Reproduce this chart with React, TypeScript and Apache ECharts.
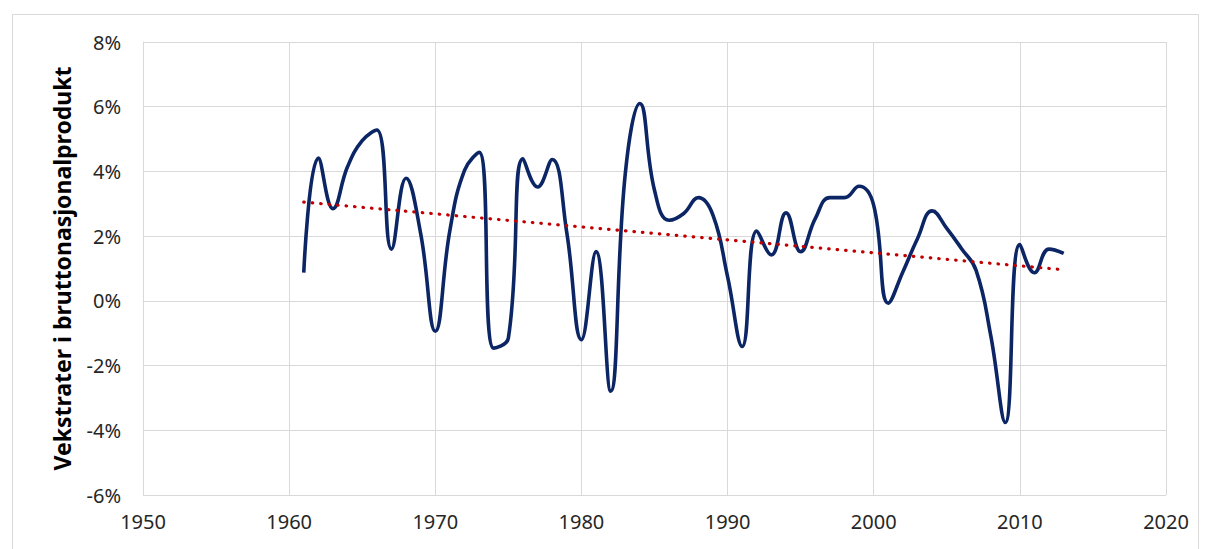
import React, { useEffect, useRef } from "react";
import * as echarts from "echarts";

const years: number[] = [
  1961, 1962, 1963, 1964, 1965, 1966, 1967, 1968, 1969, 1970,
  1971, 1972, 1973, 1974, 1975, 1976, 1977, 1978, 1979, 1980,
  1981, 1982, 1983, 1984, 1985, 1986, 1987, 1988, 1989, 1990,
  1991, 1992, 1993, 1994, 1995, 1996, 1997, 1998, 1999, 2000,
  2001, 2002, 2003, 2004, 2005, 2006, 2007, 2008, 2009, 2010,
  2011, 2012, 2013,
];
const growth: number[] = [
  0.87, 4.41, 2.85, 4.15, 4.95, 5.28, 1.6, 3.79, 2.08, -0.94,
  2.18, 4.03, 4.59, -1.46, -1.15, 4.39, 3.52, 4.37, 2.1, -1.2,
  1.52, -2.79, 3.93, 6.1, 3.42, 2.49, 2.7, 3.19, 2.65, 0.75,
  -1.41, 2.16, 1.42, 2.72, 1.52, 2.54, 3.19, 3.19, 3.54, 2.95,
  -0.07, 0.9, 1.93, 2.78, 2.24, 1.62, 0.95, -1.05, -3.76, 1.74,
  0.87, 1.6, 1.47,
];
const trendYears: number[] = [1961, 2013];
const trendValues: number[] = [3.05, 0.96];

const yAxisTitle = "Vekstrater i bruttonasjonalprodukt";

export default function App() {
  const ref = useRef<HTMLDivElement>(null);
  useEffect(() => {
    if (!ref.current) return;
    const chart = echarts.init(ref.current, null, { renderer: "svg" });
    const font = "Noto Sans";
    chart.setOption({
      animation: false,
      backgroundColor: "#ffffff",
      graphic: [
        {
          type: "rect",
          left: 10,
          top: 12,
          shape: { width: 1186, height: 545 },
          style: { fill: "none", stroke: "#d9d9d9", lineWidth: 1 },
          silent: true,
        },
      ],
      grid: { left: 143, right: 40, top: 42, bottom: 54 },
      xAxis: {
        type: "value",
        min: 1950,
        max: 2020,
        interval: 10,
        axisLine: { show: true, lineStyle: { color: "#d9d9d9", width: 1 } },
        axisTick: { show: false },
        axisLabel: {
          color: "#262626",
          fontSize: 20,
          fontFamily: font,
          margin: 16,
          formatter: (v: number) => String(v),
        },
        splitLine: { show: true, lineStyle: { color: "#d9d9d9", width: 1 } },
      },
      yAxis: {
        type: "value",
        min: -6,
        max: 8,
        interval: 2,
        name: yAxisTitle,
        nameLocation: "middle",
        nameGap: 70,
        nameRotate: 90,
        nameTextStyle: { color: "#000", fontSize: 23, fontWeight: "bold", fontFamily: font },
        axisLine: { show: true, lineStyle: { color: "#d9d9d9", width: 1 } },
        axisTick: { show: false },
        axisLabel: {
          color: "#262626",
          fontSize: 20,
          fontFamily: font,
          margin: 22,
          formatter: (v: number) => `${v}%`,
        },
        splitLine: { show: true, lineStyle: { color: "#d9d9d9", width: 1 } },
      },
      series: [
        {
          type: "line",
          data: years.map((y, i) => [y, growth[i]]),
          smooth: 0.45,
          showSymbol: false,
          symbol: "none",
          lineStyle: { color: "#0b2565", width: 3.6 },
          z: 3,
        },
        {
          type: "line",
          data: trendYears.map((y, i) => [y, trendValues[i]]),
          showSymbol: false,
          symbol: "none",
          lineStyle: { color: "#c00000", width: 3.2, type: [0.5, 8], cap: "round" },
          z: 4,
        },
      ],
    });
    return () => chart.dispose();
  }, []);
  return (
    <div
      ref={ref}
      style={{ position: "absolute", left: 0, top: 0, width: 1206, height: 549 }}
    />
  );
}
